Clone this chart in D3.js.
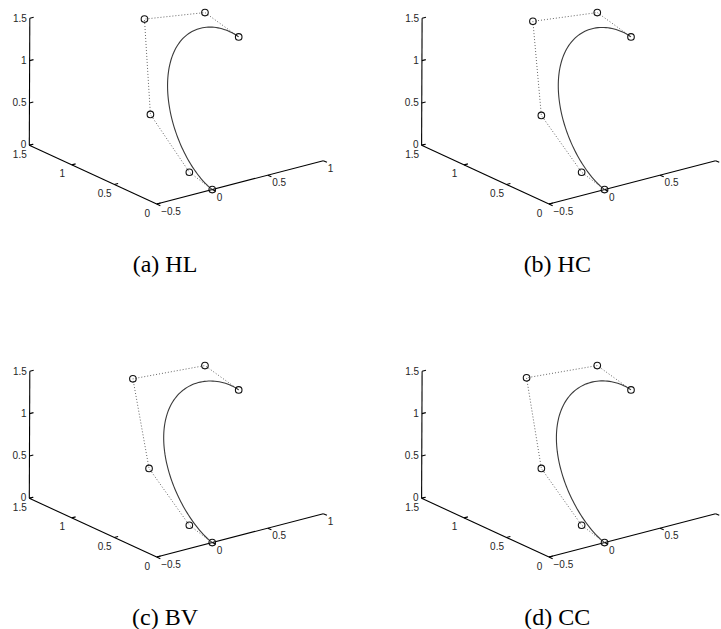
<!DOCTYPE html>
<html>
<head>
<meta charset="utf-8">
<script src="https://d3js.org/d3.v7.min.js"></script>
<style>
body{ margin:0; background:#fff; }
svg{ display:block; }
.tick-label{ font-family:"Liberation Sans", Arial, sans-serif; font-size:10px; fill:#262626; }
.caption{ font-family:"Liberation Serif", "Times New Roman", serif; font-size:24px; fill:#000; }
</style>
</head>
<body>
<script>
// axis ticks
var xTicks = [-0.5, 0, 0.5, 1];
var yTicks = [0, 0.5, 1, 1.5];
var zTicks = [0, 0.5, 1, 1.5];

var captions = ["(a) HL", "(b) HC", "(c) BV", "(d) CC"];

// control points [x, y, z] for each method
var ctrlHL = [[0,0,0],[0,0.27,0.08],[0,0.73,0.55],[0.15,1.0,1.5],[0.58,0.85,1.5],[1,1,1]];
var ctrlHC = [[0,0,0],[0,0.27,0.08],[-0.02,0.72,0.55],[0.10,0.98,1.5],[0.58,0.85,1.5],[1,1,1]];
var ctrlBV = [[0,0,0],[0,0.27,0.08],[-0.02,0.72,0.55],[0,0.94,1.5],[0.58,0.85,1.5],[1,1,1]];
var ctrlCC = [[0,0,0],[0,0.27,0.08],[-0.02,0.72,0.55],[0.02,0.95,1.5],[0.58,0.85,1.5],[1,1,1]];

var panels = [
  {ctrl: ctrlHL, cap: captions[0], dx: 0,     dy: 0},
  {ctrl: ctrlHC, cap: captions[1], dx: 392.3, dy: 0},
  {ctrl: ctrlBV, cap: captions[2], dx: 0,     dy: 353},
  {ctrl: ctrlCC, cap: captions[3], dx: 392.3, dy: 353}
];

var W = 721, H = 629;
var svg = d3.select("body").append("svg")
  .attr("width", W).attr("height", H);
svg.append("rect").attr("width", W).attr("height", H).attr("fill", "#fff");

// scales: data -> fraction along each axis of the box
var sx = d3.scaleLinear().domain([-0.5, 1]).range([0, 1]);
var sy = d3.scaleLinear().domain([0, 1.5]).range([0, 1]);
var sz = d3.scaleLinear().domain([0, 1.5]).range([0, 1]);

// projected axis vectors (screen px for the full axis length)
var corner = [156.7, 204];   // (x=-0.5, y=0, z=0)
var EX = [166.6, -43.3];
var EY = [-127.4, -58.7];
var EZ = [0.5, -127];

function unit(v){ var l = Math.hypot(v[0], v[1]); return [v[0]/l, v[1]/l]; }

function proj(p){
  var a = sx(p[0]), b = sy(p[1]), c = sz(p[2]);
  return [corner[0] + a*EX[0] + b*EY[0] + c*EZ[0],
          corner[1] + a*EX[1] + b*EY[1] + c*EZ[1]];
}

// bezier curve of the control points (de Casteljau)
function bezier(ctrl, t){
  var pts = ctrl.map(function(p){ return p.slice(); });
  for (var k = pts.length - 1; k > 0; k--){
    for (var i = 0; i < k; i++){
      for (var j = 0; j < 3; j++) pts[i][j] = (1-t)*pts[i][j] + t*pts[i+1][j];
    }
  }
  return pts[0];
}

var line = d3.line();
var tickLen = 4;

panels.forEach(function(pn){
  var g = svg.append("g").attr("transform", "translate(" + pn.dx + "," + pn.dy + ")");

  // axes
  var ax = g.append("g").attr("stroke", "#000").attr("stroke-width", 1.1).attr("fill", "none");
  ax.append("path").attr("d", line([proj([-0.5,0,0]), proj([1,0,0])]));
  ax.append("path").attr("d", line([proj([-0.5,0,0]), proj([-0.5,1.5,0])]));
  ax.append("path").attr("d", line([proj([-0.5,1.5,0]), proj([-0.5,1.5,1.5])]));

  var ux = unit(EX), uy = unit(EY);

  // x ticks
  xTicks.forEach(function(v){
    var p = proj([v,0,0]);
    ax.append("path").attr("d", line([p, [p[0] - uy[0]*tickLen, p[1] - uy[1]*tickLen]]));
    // labels past the page edge are cut off in the original, skip them
    if (pn.dx + p[0] + 4.5 > W - 3) return;
    g.append("text").attr("class", "tick-label")
      .attr("x", p[0] + 4.5).attr("y", p[1] + 7.7).attr("dy", "0.35em")
      .attr("text-anchor", "start")
      .text(v < 0 ? "\u2212" + Math.abs(v) : v);
  });
  // y ticks
  yTicks.forEach(function(v){
    var p = proj([-0.5,v,0]);
    ax.append("path").attr("d", line([p, [p[0] + ux[0]*tickLen, p[1] + ux[1]*tickLen]]));
    g.append("text").attr("class", "tick-label")
      .attr("x", p[0] - 9.5).attr("y", p[1] + 9).attr("dy", "0.35em")
      .attr("text-anchor", "middle")
      .text(v);
  });
  // z ticks
  zTicks.forEach(function(v){
    var p = proj([-0.5,1.5,v]);
    ax.append("path").attr("d", line([p, [p[0] + ux[0]*tickLen, p[1] + ux[1]*tickLen]]));
    g.append("text").attr("class", "tick-label")
      .attr("x", p[0] - 3).attr("y", p[1] - (v === 0 ? 1 : 0)).attr("dy", "0.35em")
      .attr("text-anchor", "end")
      .text(v);
  });

  // control polygon
  g.append("path")
    .attr("d", line(pn.ctrl.map(proj)))
    .attr("fill", "none").attr("stroke", "#666")
    .attr("stroke-width", 1).attr("stroke-dasharray", "1 2");

  // curve
  var curvePts = d3.range(0, 1.0001, 0.01).map(function(t){ return proj(bezier(pn.ctrl, t)); });
  g.append("path")
    .attr("d", line(curvePts))
    .attr("fill", "none").attr("stroke", "#3a3a3a").attr("stroke-width", 1.1);

  // markers
  g.selectAll("circle.m").data(pn.ctrl).enter().append("circle")
    .attr("class", "m")
    .attr("cx", function(d){ return proj(d)[0]; })
    .attr("cy", function(d){ return proj(d)[1]; })
    .attr("r", 3.3)
    .attr("fill", "none").attr("stroke", "#111").attr("stroke-width", 1.1);

  // caption
  g.append("text").attr("class", "caption")
    .attr("x", 165).attr("y", 272)
    .attr("text-anchor", "middle")
    .text(pn.cap);
});
</script>
</body>
</html>
